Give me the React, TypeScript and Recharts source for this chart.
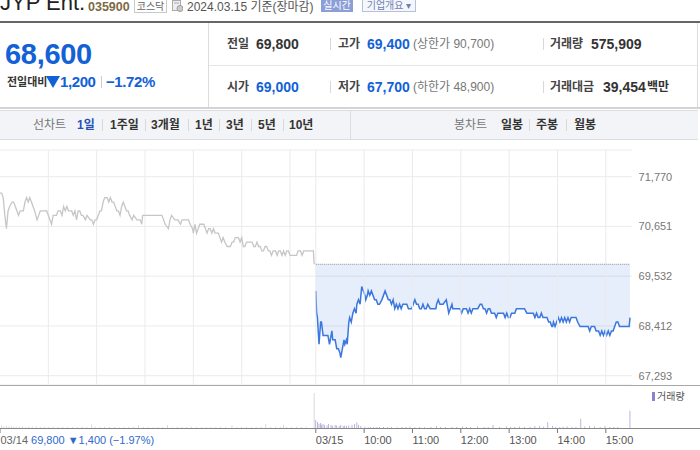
import React from "react";
import {
  ComposedChart,
  Line,
  Area,
  XAxis,
  YAxis,
  CartesianGrid,
  ReferenceLine,
  BarChart,
  Bar,
} from "recharts";

// ---------- data ----------
const PREV_CLOSE = 69800;
const DAY2_OFFSET = 392; // minutes from 03/14 09:00 to 03/15 09:00 on the compressed axis
const X_MAX = 784;
const PRICE_DOMAIN: [number, number] = [67083.75, 72370.75];
const Y_TICKS = [67293, 68412, 69532, 70651, 71770];
const GRID_MINUTES = [60, 120, 180, 240, 300, 360, 392, 452, 512, 572, 632, 692, 752];
const X_TICKS = [0, 392, 452, 512, 572, 632, 692, 752];
const X_LABELS = ["03/14", "03/15", "10:00", "11:00", "12:00", "13:00", "14:00", "15:00"];
const DAY1_SUMMARY = "69,800 ▼1,400 (−1.97%)";

// 03/14 intraday: [minutes after 09:00, price]
const DAY1: [number, number][] = [
  [0, 71400], [2, 71400], [4, 71300], [6, 70900], [8, 70600], [10, 71000], [12, 71100], [15, 71200],
  [17, 71200], [19, 71100], [21, 71000], [23, 70900], [25, 71000], [29, 71000], [31, 71200], [33, 71300],
  [35, 71200], [37, 71300], [39, 71200], [41, 71100], [43, 71000], [46, 70800], [48, 70900], [50, 71000],
  [54, 71000], [58, 71000], [62, 70800], [64, 70700], [66, 70900], [70, 70900], [72, 71000], [75, 71000],
  [77, 70900], [79, 71100], [81, 71000], [83, 71100], [85, 71000], [87, 71000], [89, 71000], [91, 70900],
  [93, 71000], [95, 70800], [97, 71000], [99, 71000], [101, 70900], [103, 70900], [106, 70800], [108, 70900],
  [112, 70800], [114, 70800], [116, 70700], [118, 70800], [120, 70800], [122, 70900], [124, 71000], [126, 71000],
  [128, 71200], [130, 71300], [133, 71300], [135, 71200], [137, 71300], [139, 71200], [141, 71200], [143, 71100],
  [145, 71000], [147, 71000], [149, 70900], [151, 71100], [153, 71200], [155, 71100], [157, 71000], [159, 71000],
  [161, 70900], [164, 70800], [166, 70900], [170, 70800], [174, 70800], [176, 70700], [177, 70900], [180, 70900],
  [186, 70900], [193, 70900], [197, 70900], [201, 70900], [205, 70700], [209, 70600], [211, 70800], [213, 70900],
  [217, 70800], [221, 70800], [224, 70700], [226, 70800], [230, 70800], [234, 70800], [236, 70700], [239, 70600],
  [240, 70500], [242, 70700], [244, 70500], [246, 70600], [248, 70700], [253, 70700], [255, 70600], [257, 70500],
  [259, 70600], [261, 70600], [263, 70500], [265, 70600], [267, 70500], [269, 70500], [271, 70500], [273, 70400],
  [275, 70300], [277, 70400], [279, 70300], [282, 70200], [284, 70200], [286, 70200], [288, 70300], [290, 70300],
  [292, 70400], [294, 70400], [296, 70400], [298, 70300], [300, 70400], [302, 70200], [304, 70200], [306, 70300],
  [308, 70300], [311, 70300], [313, 70300], [315, 70200], [317, 70200], [319, 70300], [321, 70200], [323, 70200],
  [325, 70100], [327, 70100], [329, 70200], [331, 70200], [333, 70100], [335, 70100], [337, 70000], [339, 70100],
  [342, 70100], [344, 70000], [346, 70100], [348, 70100], [350, 70000], [352, 70100], [354, 70000], [356, 70100],
  [358, 70100], [360, 70000], [362, 70000], [364, 70000], [366, 70000], [368, 70000], [370, 70100], [373, 70100],
  [375, 70000], [377, 70100], [380, 70100], [389, 70100], [390, 69800],
];

// 03/15 intraday: [minutes after 09:00, price]
const DAY2: [number, number][] = [
  [0, 69200], [1, 68700], [2, 68600], [4, 68000], [6, 68500], [7, 68500], [9, 68200], [11, 68200],
  [13, 68200], [15, 68200], [17, 68000], [18, 68100], [20, 68300], [21, 68100], [24, 68100], [26, 67900],
  [28, 67900], [30, 67800], [31, 67700], [32, 67800], [34, 68000], [35, 68100], [36, 68000], [38, 68100],
  [39, 68000], [41, 68500], [42, 68600], [44, 68500], [46, 68700], [48, 68800], [50, 68700], [51, 68900],
  [53, 69000], [55, 68900], [56, 69100], [57, 69300], [59, 69200], [61, 69100], [62, 69000], [64, 69100],
  [65, 69200], [67, 69100], [69, 69200], [71, 69100], [73, 69000], [75, 69000], [77, 68900], [79, 68900],
  [82, 69000], [84, 69100], [86, 69200], [88, 69100], [90, 69000], [92, 69000], [94, 68900], [96, 69000],
  [98, 68800], [100, 68900], [102, 68800], [104, 68900], [106, 68800], [108, 68900], [110, 68900], [113, 68900],
  [115, 68800], [117, 68800], [119, 68800], [121, 68900], [123, 69000], [125, 68900], [127, 68900], [129, 68800],
  [131, 68800], [133, 68900], [135, 68800], [137, 68800], [139, 68900], [142, 68800], [149, 68800], [150, 68900],
  [152, 69000], [154, 68900], [158, 68900], [162, 69000], [164, 68800], [165, 68700], [167, 68800], [169, 68900],
  [170, 68800], [175, 68800], [179, 68800], [181, 68700], [183, 68800], [185, 68800], [187, 68800], [189, 68700],
  [191, 68800], [193, 68700], [195, 68800], [197, 68800], [199, 68800], [201, 68800], [204, 68900], [206, 68900],
  [208, 68800], [210, 68800], [212, 68700], [214, 68800], [216, 68800], [218, 68700], [220, 68700], [222, 68700],
  [224, 68600], [226, 68700], [228, 68700], [231, 68700], [233, 68700], [235, 68600], [237, 68700], [239, 68600],
  [241, 68600], [243, 68700], [245, 68700], [247, 68700], [249, 68800], [251, 68800], [253, 68800], [255, 68800],
  [257, 68800], [259, 68800], [262, 68700], [264, 68700], [266, 68700], [268, 68700], [270, 68700], [272, 68600],
  [274, 68700], [276, 68600], [278, 68600], [280, 68700], [282, 68600], [285, 68600], [287, 68600], [289, 68500],
  [291, 68500], [293, 68400], [294, 68400], [295, 68500], [297, 68400], [299, 68500], [301, 68600], [303, 68500],
  [305, 68600], [307, 68500], [309, 68600], [311, 68500], [313, 68600], [315, 68500], [317, 68600], [319, 68600],
  [323, 68600], [325, 68500], [328, 68400], [330, 68400], [332, 68400], [334, 68400], [336, 68400], [338, 68400],
  [340, 68300], [342, 68400], [344, 68400], [346, 68400], [348, 68300], [351, 68300], [353, 68200], [355, 68300],
  [357, 68200], [359, 68300], [361, 68200], [363, 68300], [365, 68200], [367, 68300], [369, 68300], [371, 68400],
  [373, 68500], [375, 68500], [377, 68400], [379, 68400], [380, 68400], [389, 68400], [390, 68600],
];

// volumes (shares): [minutes after 09:00, volume]
const VOL1: [number, number][] = [
  [2, 2600], [5, 1800], [8, 2200], [11, 1500], [14, 1900], [17, 1200], [20, 1600], [24, 1300], [28, 1700],
  [32, 1100], [36, 1400], [40, 1200], [45, 1500], [50, 1000], [55, 1300], [60, 1100], [66, 1200], [72, 900],
  [78, 1300], [84, 1000], [90, 1100], [96, 800], [102, 1200], [108, 900], [114, 3600], [118, 1400], [124, 1000],
  [130, 1300], [136, 900], [142, 1100], [148, 800], [154, 1000], [160, 900], [166, 1200], [172, 2800], [178, 900],
  [184, 1000], [190, 700], [196, 900], [202, 1100], [208, 2900], [214, 800], [220, 1300], [226, 1000], [232, 900],
  [238, 1200], [244, 1000], [250, 800], [256, 1100], [262, 1000], [268, 900], [274, 1200], [280, 1000], [288, 2600],
  [294, 900], [300, 1100], [306, 1000], [312, 900], [318, 1000], [324, 1300], [330, 4200], [336, 1000], [342, 1200],
  [348, 1000], [352, 3300], [356, 1100], [362, 1000], [368, 1300], [374, 1000], [380, 1200], [390, 35000],
];
const VOL2: [number, number][] = [
  [0, 8000], [2, 6000], [4, 4200], [6, 5000], [7, 3200], [9, 4000], [11, 3000], [14, 2500], [16, 4000],
  [19, 3000], [21, 2200], [24, 3000], [26, 2500], [29, 2000], [31, 3000], [34, 2000], [36, 2500], [38, 2000],
  [41, 2600], [45, 3000], [48, 4000], [51, 5600], [53, 3000], [56, 2000], [61, 1200], [65, 1000], [68, 1100],
  [72, 900], [76, 1000], [79, 1100], [84, 900], [89, 800], [94, 900], [101, 800], [107, 1000], [112, 900],
  [117, 1300], [123, 800], [129, 900], [135, 800], [143, 1000], [150, 2000], [155, 900], [161, 1000], [169, 900],
  [175, 1100], [182, 1500], [187, 900], [192, 1000], [201, 1500], [209, 900], [214, 1000], [220, 3000], [228, 1000],
  [237, 1500], [242, 900], [247, 1000], [253, 1500], [259, 1000], [266, 1100], [272, 2000], [278, 2000], [283, 1200],
  [288, 5700], [294, 2000], [298, 1000], [303, 1000], [307, 1200], [312, 1500], [318, 1000], [323, 1100], [329, 9300],
  [334, 1500], [340, 2000], [346, 1500], [353, 1000], [359, 2000], [365, 1000], [370, 900], [375, 1000], [390, 17300],
];
const VOL_DOMAIN: [number, number] = [0, 40000];

// ---------- derived rows ----------
const priceRows = [
  ...DAY1.map(([m, p]) => ({ t: m, p1: p })),
  ...DAY2.map(([m, p]) => ({ t: DAY2_OFFSET + m, p2: p, base: PREV_CLOSE })),
];
const volRows = [
  ...VOL1.map(([m, v]) => ({ t: m, v1: v })),
  ...VOL2.map(([m, v]) => ({ t: DAY2_OFFSET + m, v2: v })),
];

// ---------- styles ----------
const FONT = '"Liberation Sans", Arial, "Noto Sans CJK KR", sans-serif';
const BLUE = "#1261d6";
const abs = (s: React.CSSProperties): React.CSSProperties => ({ position: "absolute", whiteSpace: "nowrap", ...s });

const XTick = (props: any) => {
  const { x, y, payload } = props;
  const i = X_TICKS.indexOf(payload.value);
  const label = X_LABELS[i] ?? "";
  if (payload.value === 0) {
    return (
      <text x={Math.max(x, 0.5)} y={y} dy="0.71em" fontSize={11} fill="#666" fontFamily={FONT} textAnchor="start">
        <tspan>{label}</tspan>
        <tspan fill="#2f68cc" dx={3}>{DAY1_SUMMARY}</tspan>
      </text>
    );
  }
  return (
    <text x={x} y={y} dy="0.71em" fontSize={11} fill="#555" fontFamily={FONT} textAnchor="start">
      {label}
    </text>
  );
};

const Sep = ({ left, top }: { left: number; top: number }) => (
  <div style={abs({ left, top, width: 1, height: 12, background: "#d8d8d8" })} />
);

export default function App() {
  return (
    <div style={abs({ left: 0, top: 0, width: 700, height: 450, background: "#fff", overflow: "hidden", fontFamily: FONT })}>
      {/* header */}
      <div style={abs({ left: 0, top: -8, fontSize: 22, lineHeight: "22px", color: "#222" })}>JYP Ent.</div>
      <div style={abs({ left: 88, top: 1, fontSize: 12.5, lineHeight: "13px", color: "#7d6a45", fontWeight: 700 })}>035900</div>
      <div style={abs({ left: 134, top: -2, width: 31, height: 13, border: "1px solid #c9c9c9", fontSize: 10, lineHeight: "15px", color: "#666", textAlign: "center" })}>코스닥</div>
      <svg style={abs({ left: 172, top: 0 })} width={11} height={12}>
        <rect x={0.5} y={0.5} width={8} height={10} fill="#eee" stroke="#aaa" />
        <line x1={2} y1={3} x2={7} y2={3} stroke="#aaa" />
        <circle cx={8} cy={8.5} r={3} fill="#ccc" stroke="#999" />
      </svg>
      <div style={abs({ left: 187, top: 1, fontSize: 12, lineHeight: "13px", color: "#555" })}>2024.03.15 기준(장마감)</div>
      <div style={abs({ left: 321, top: -2, width: 32, height: 14, background: "#8b9ed8", fontSize: 10, lineHeight: "15px", color: "#fff", textAlign: "center" })}>실시간</div>
      <div style={abs({ left: 362, top: -2, width: 52, height: 12, border: "1px solid #b4c0dc", background: "#f5f7fc", fontSize: 10, lineHeight: "14px", color: "#6f7fb0", textAlign: "center" })}>기업개요 ▾</div>

      {/* info panel */}
      <div style={abs({ left: 0, top: 21, width: 700, height: 2, background: "#666" })} />
      <div style={abs({ left: 208, top: 23, width: 1, height: 85, background: "#dcdcdc" })} />
      <div style={abs({ left: 697, top: 23, width: 1, height: 85, background: "#dcdcdc" })} />
      <div style={abs({ left: 209, top: 65, width: 488, height: 1, background: "#e6e6e6" })} />
      <div style={abs({ left: 0, top: 107, width: 700, height: 2, background: "#d4d4d4" })} />

      <div style={abs({ left: 5, top: 39, fontSize: 29, lineHeight: "30px", color: BLUE, fontWeight: 700, letterSpacing: -0.3 })}>68,600</div>
      <div style={abs({ left: 7, top: 75, fontSize: 11, lineHeight: "14px", color: "#333", fontWeight: 700 })}>전일대비</div>
      <svg style={abs({ left: 46, top: 76 })} width={14} height={12}>
        <polygon points="0,0 14,0 7,12" fill={BLUE} />
      </svg>
      <div style={abs({ left: 60, top: 73, fontSize: 15, lineHeight: "18px", color: BLUE, fontWeight: 700, letterSpacing: -0.4 })}>1,200</div>
      <div style={abs({ left: 101, top: 76, width: 1, height: 12, background: "#ccc" })} />
      <div style={abs({ left: 106, top: 73, fontSize: 15, lineHeight: "18px", color: BLUE, fontWeight: 700, letterSpacing: -0.4 })}>−1.72%</div>

      {/* row 1 */}
      <div style={abs({ left: 227, top: 36, fontSize: 12, lineHeight: "16px", color: "#444", fontWeight: 700 })}>전일</div>
      <div style={abs({ left: 256, top: 35, fontSize: 14, lineHeight: "18px", color: "#333", fontWeight: 700 })}>69,800</div>
      <Sep left={330} top={38} />
      <div style={abs({ left: 338, top: 36, fontSize: 12, lineHeight: "16px", color: "#444", fontWeight: 700 })}>고가</div>
      <div style={abs({ left: 367, top: 35, fontSize: 14, lineHeight: "18px", color: BLUE, fontWeight: 700 })}>69,400</div>
      <div style={abs({ left: 413, top: 36, fontSize: 12, lineHeight: "16px", color: "#777" })}>(상한가 90,700)</div>
      <Sep left={543} top={38} />
      <div style={abs({ left: 550, top: 36, fontSize: 12, lineHeight: "16px", color: "#444", fontWeight: 700 })}>거래량</div>
      <div style={abs({ left: 591, top: 35, fontSize: 14, lineHeight: "18px", color: "#333", fontWeight: 700 })}>575,909</div>

      {/* row 2 */}
      <div style={abs({ left: 227, top: 79, fontSize: 12, lineHeight: "16px", color: "#444", fontWeight: 700 })}>시가</div>
      <div style={abs({ left: 256, top: 78, fontSize: 14, lineHeight: "18px", color: BLUE, fontWeight: 700 })}>69,000</div>
      <Sep left={330} top={81} />
      <div style={abs({ left: 338, top: 79, fontSize: 12, lineHeight: "16px", color: "#444", fontWeight: 700 })}>저가</div>
      <div style={abs({ left: 367, top: 78, fontSize: 14, lineHeight: "18px", color: BLUE, fontWeight: 700 })}>67,700</div>
      <div style={abs({ left: 413, top: 79, fontSize: 12, lineHeight: "16px", color: "#777" })}>(하한가 48,900)</div>
      <Sep left={543} top={81} />
      <div style={abs({ left: 550, top: 79, fontSize: 12, lineHeight: "16px", color: "#444", fontWeight: 700 })}>거래대금</div>
      <div style={abs({ left: 603, top: 78, fontSize: 14, lineHeight: "18px", color: "#333", fontWeight: 700 })}>39,454</div>
      <div style={abs({ left: 647, top: 79, fontSize: 12, lineHeight: "16px", color: "#333", fontWeight: 700 })}>백만</div>

      {/* tab bar */}
      <div style={abs({ left: 0, top: 110, width: 698, height: 28, background: "#f3f4f7", borderTop: "1px solid #dcdde2", borderBottom: "1px solid #dcdde2" })} />
      <div style={abs({ left: 350, top: 111, width: 1, height: 28, background: "#dcdde2" })} />
      <div style={abs({ left: 33, top: 117, fontSize: 12, lineHeight: "16px", color: "#777" })}>선차트</div>
      <div style={abs({ left: 77, top: 117, fontSize: 12, lineHeight: "16px", color: "#2450b8", fontWeight: 700 })}>1일</div>
      <Sep left={102} top={119} />
      <div style={abs({ left: 110, top: 117, fontSize: 12, lineHeight: "16px", color: "#333", fontWeight: 700 })}>1주일</div>
      <Sep left={145} top={119} />
      <div style={abs({ left: 151, top: 117, fontSize: 12, lineHeight: "16px", color: "#333", fontWeight: 700 })}>3개월</div>
      <Sep left={188} top={119} />
      <div style={abs({ left: 195, top: 117, fontSize: 12, lineHeight: "16px", color: "#333", fontWeight: 700 })}>1년</div>
      <Sep left={219} top={119} />
      <div style={abs({ left: 226, top: 117, fontSize: 12, lineHeight: "16px", color: "#333", fontWeight: 700 })}>3년</div>
      <Sep left={251} top={119} />
      <div style={abs({ left: 258, top: 117, fontSize: 12, lineHeight: "16px", color: "#333", fontWeight: 700 })}>5년</div>
      <Sep left={283} top={119} />
      <div style={abs({ left: 289, top: 117, fontSize: 12, lineHeight: "16px", color: "#333", fontWeight: 700 })}>10년</div>
      <div style={abs({ left: 454, top: 117, fontSize: 12, lineHeight: "16px", color: "#777" })}>봉차트</div>
      <div style={abs({ left: 501, top: 117, fontSize: 12, lineHeight: "16px", color: "#333", fontWeight: 700 })}>일봉</div>
      <Sep left={529} top={119} />
      <div style={abs({ left: 536, top: 117, fontSize: 12, lineHeight: "16px", color: "#333", fontWeight: 700 })}>주봉</div>
      <Sep left={566} top={119} />
      <div style={abs({ left: 574, top: 117, fontSize: 12, lineHeight: "16px", color: "#333", fontWeight: 700 })}>월봉</div>

      {/* price chart */}
      <div style={abs({ left: 0, top: 140 })}>
        <ComposedChart width={700} height={245} data={priceRows} margin={{ top: 10, right: 8.4, bottom: 0, left: 0 }}>
          <CartesianGrid vertical={false} stroke="#ebebeb" />
          <XAxis type="number" dataKey="t" domain={[0, X_MAX]} hide allowDataOverflow />
          <YAxis
            orientation="right"
            domain={PRICE_DOMAIN}
            ticks={Y_TICKS}
            interval={0}
            width={60}
            axisLine={false}
            tickLine={false}
            tickSize={0}
            tickMargin={7}
            allowDataOverflow
            tick={{ fontSize: 11, fill: "#777", fontFamily: FONT }}
            tickFormatter={(v: number) => v.toLocaleString("en-US")}
          />
          {GRID_MINUTES.map((m) => (
            <ReferenceLine key={m} x={m} stroke="#ebebeb" ifOverflow="extendDomain" />
          ))}
          <Area
            type="linear"
            dataKey="p2"
            baseValue={PREV_CLOSE}
            stroke="#3a77de"
            strokeWidth={1.5}
            fill="#3a77de"
            fillOpacity={0.13}
            dot={false}
            activeDot={false}
            isAnimationActive={false}
          />
          <Line type="linear" dataKey="base" stroke="#8a8a8a" strokeWidth={1} strokeDasharray="1 1" dot={false} activeDot={false} isAnimationActive={false} />
          <Line type="linear" dataKey="p1" stroke="#c6c6c6" strokeWidth={1.3} dot={false} activeDot={false} isAnimationActive={false} />
        </ComposedChart>
      </div>

      <div style={abs({ left: 0, top: 385, width: 700, height: 1, background: "#a8a8a8" })} />

      {/* volume chart */}
      <div style={abs({ left: 0, top: 378 })}>
        <BarChart width={700} height={72} data={volRows} margin={{ top: 10, right: 68.4, bottom: 0, left: 0 }}>
          <XAxis
            type="number"
            dataKey="t"
            domain={[0, X_MAX]}
            ticks={X_TICKS}
            interval={0}
            height={22}
            axisLine={false}
            tickLine={{ stroke: "#777" }}
            tickSize={5}
            tickMargin={3}
            tick={<XTick />}
            allowDataOverflow
          />
          <YAxis hide domain={VOL_DOMAIN} />
          <Bar dataKey="v1" stackId="vol" fill="#cbcbcb" barSize={1} isAnimationActive={false} />
          <Bar dataKey="v2" stackId="vol" fill="#a497d4" barSize={1} isAnimationActive={false} />
        </BarChart>
      </div>
      <div style={abs({ left: 0, top: 428, width: 700, height: 1, background: "#888" })} />

      {/* volume legend */}
      <div style={abs({ left: 652, top: 392, width: 3, height: 9, background: "#8f80cc" })} />
      <div style={abs({ left: 657, top: 390, fontSize: 10, lineHeight: "13px", color: "#555" })}>거래량</div>
    </div>
  );
}
